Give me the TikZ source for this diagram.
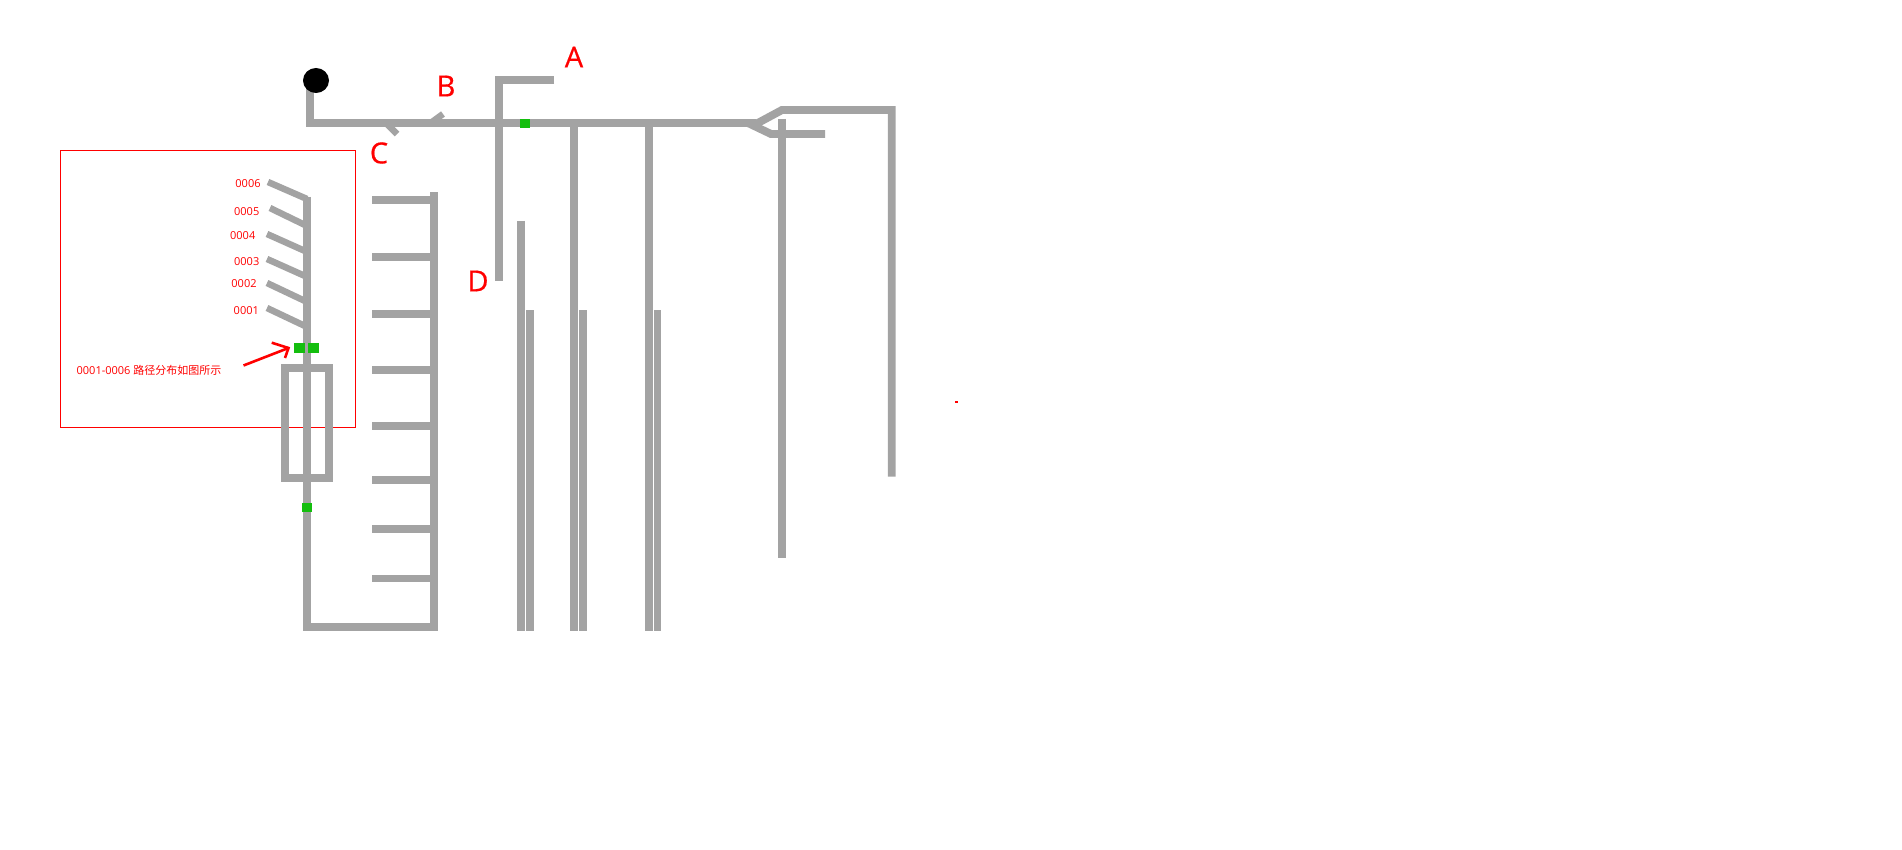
\documentclass[tikz,border=0pt]{standalone}
\usepackage{fontspec}
\setmainfont{Open Sans}
\newfontfamily\cjkf{Noto Sans CJK SC}
\newfontfamily\bigf[FakeBold=0.6]{Open Sans}
\definecolor{pipe}{HTML}{A3A3A3}
\definecolor{mark}{HTML}{14BE0E}
\tikzset{
  pipeline/.style={draw=pipe,line width=7.9pt},
  thinbranch/.style={draw=pipe,line width=6.5pt},
  gsq/.style={fill=mark,draw=none},
  biglabel/.style={text=red,font=\bigf\fontsize{29}{30}\selectfont,inner sep=0pt},
  smalllabel/.style={text=red,font=\fontsize{11}{12}\selectfont,inner sep=0pt},
  redline/.style={draw=red,line width=1pt},
  redarrow/.style={draw=red,line width=2.6pt}
}
\begin{document}
\begin{tikzpicture}[x=1pt,y=-1pt]
\path[use as bounding box,fill=white] (0,0) rectangle (1902,850);
% red frame
\draw[redline] (60.5,150.5) rectangle (355.5,427);
% main line and source
\draw[pipeline] (310,82) -- (310,123) -- (756,123);
\fill (316,80.5) ellipse (13 and 12.5);
\draw[thinbranch] (432,122) -- (443,114);
\draw[thinbranch] (387,124) -- (397,134);
% A/D branch
\draw[pipeline] (554,80) -- (499,80) -- (499,281);
\fill[gsq] (520,119) rectangle (530,128);
% downstream verticals
\draw[pipeline] (574,123) -- (574,630.7);
\draw[pipeline] (648.7,123) -- (648.7,630.7);
\draw[pipeline] (521,221) -- (521,630.7);
\draw[pipeline] (530,310) -- (530,630.7);
\draw[pipeline] (583,310) -- (583,630.7);
\draw[pipeline] (657.5,310) -- (657.5,630.7);
% fork
\draw[pipeline] (756,124) -- (782,110) -- (891.7,110) -- (891.7,476.5);
\draw[pipeline] (748,123) -- (771,134) -- (825,134);
\draw[pipeline] (782,119) -- (782,558);
% left loop
\draw[pipeline] (307,197) -- (307,627) -- (434.3,627) -- (434.3,192);
\foreach \yy in {200,257,314,370,426,480,529,578.5}
  \draw[pipeline] (372,\yy) -- (434.3,\yy);
\draw[pipeline] (285,368) rectangle (328.7,477.7);
\draw[pipeline] (307,360) -- (307,490);
% six branches
\draw[thinbranch] (268,182) -- (307,199);
\draw[thinbranch] (270,208) -- (305,225);
\draw[thinbranch] (267,234) -- (305,251);
\draw[thinbranch] (267,259) -- (305,276);
\draw[thinbranch] (267,283) -- (305,301);
\draw[thinbranch] (267,308) -- (305,326);
% green squares
\fill[gsq] (294,342.5) rectangle (305,352.5);
\fill[gsq] (308,342.5) rectangle (319,352.5);
\fill[gsq] (302,503) rectangle (312,512);
% stray red dot
\fill[red] (955,401) rectangle (958,403);
% red arrow
\coordinate (arrowtail) at (243.5,365.5);
\coordinate (arrowtip) at (288.5,348);
\draw[redarrow] (arrowtail) -- (arrowtip);
\draw[redarrow] (271.7,342.7) -- (arrowtip) -- (285,358);
% labels
\node[biglabel] (lA) at (574,57) {A};
\node[biglabel] (lB) at (446,86) {B};
\node[biglabel] (lC) at (379,153) {C};
\node[biglabel] (lD) at (478,281) {D};
\node[smalllabel] (n6) at (248,184) {0006};
\node[smalllabel] (n5) at (246.7,212) {0005};
\node[smalllabel] (n4) at (242.7,236) {0004};
\node[smalllabel] (n3) at (246.7,262) {0003};
\node[smalllabel] (n2) at (244,284) {0002};
\node[smalllabel] (n1) at (246.3,311) {0001};
\node[smalllabel] (note) at (149,370) {0001-0006 {\cjkf 路径分布如图所示}};
\end{tikzpicture}
\end{document}
